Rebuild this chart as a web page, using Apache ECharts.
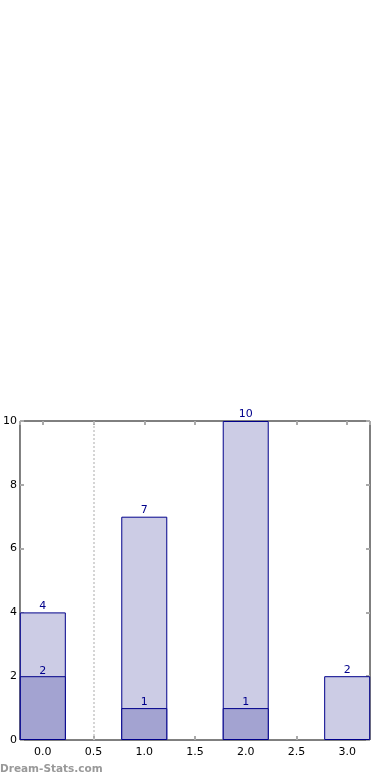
<!DOCTYPE html>
<html><head><meta charset="utf-8">
<script src="https://cdn.jsdelivr.net/npm/echarts@6/dist/echarts.min.js"></script>
<style>html,body{margin:0;padding:0;background:#fff}#c{width:390px;height:780px}</style>
</head><body><div id="c"></div>
<script>
const categories = [0, 1, 2, 3];
const totalValues = [4, 7, 10, 2];
const subValues = [2, 1, 1, 0];
const markerX = 0.5;
const yTicks = [0, 2, 4, 6, 8, 10];

const font = 'DejaVu Sans';
const navy = '#00008b';
const chart = echarts.init(document.getElementById('c'));
const tickStyle = {show: true, inside: true, length: 4, lineStyle: {color: '#aaaaaa', width: 2}};
const noLine = {show: false, onZero: false};
chart.setOption({
  animation: false,
  grid: {left: 18, right: 20, top: 421, bottom: 40, show: true, borderColor: '#000', borderWidth: 1, backgroundColor: 'transparent'},
  xAxis: [{
    type: 'value', min: -0.225, max: 3.225, splitNumber: 7,
    axisLine: noLine, splitLine: {show: false},
    axisTick: tickStyle,
    axisLabel: {showMinLabel: false, showMaxLabel: false, color: '#000', fontFamily: font, fontSize: 11, margin: 7,
      formatter: v => v.toFixed(1)}
  }, {
    type: 'value', position: 'top', min: -0.225, max: 3.225, splitNumber: 7,
    axisLine: noLine, splitLine: {show: false},
    axisTick: tickStyle, axisLabel: {show: false}
  }],
  yAxis: [{
    type: 'value', min: yTicks[0], max: yTicks[yTicks.length - 1], interval: 2,
    axisLine: noLine, splitLine: {show: false},
    axisTick: tickStyle,
    axisLabel: {color: '#000', fontFamily: font, fontSize: 11, margin: 3}
  }, {
    type: 'value', position: 'right', min: yTicks[0], max: yTicks[yTicks.length - 1], interval: 2,
    axisLine: noLine, splitLine: {show: false},
    axisTick: tickStyle, axisLabel: {show: false}
  }],
  series: [{
    type: 'bar', barWidth: 46, barGap: '-100%',
    data: categories.map((c, i) => [c, totalValues[i]]),
    itemStyle: {color: '#ccccE5', borderColor: navy, borderWidth: 1},
    label: {show: true, position: 'top', distance: 1, color: navy, fontFamily: font, fontSize: 11},
    markLine: {silent: true, symbol: 'none', label: {show: false},
      lineStyle: {color: '#c8c8c8', type: [2, 2], width: 1.5},
      data: [{xAxis: markerX}]},
    z: 2
  }, {
    type: 'bar', barWidth: 46, barGap: '-100%',
    data: categories.map((c, i) => [c, subValues[i]]).filter(d => d[1] > 0),
    itemStyle: {color: '#a3a3d1', borderColor: navy, borderWidth: 1},
    label: {show: true, position: 'top', distance: 0, color: navy, fontFamily: font, fontSize: 11},
    z: 3
  }],
  graphic: [{
    type: 'text', left: 0, top: 764,
    style: {text: 'Dream-Stats.com', fill: '#999999', font: 'bold 10.5px "DejaVu Sans"'}
  }]
});
</script></body></html>
